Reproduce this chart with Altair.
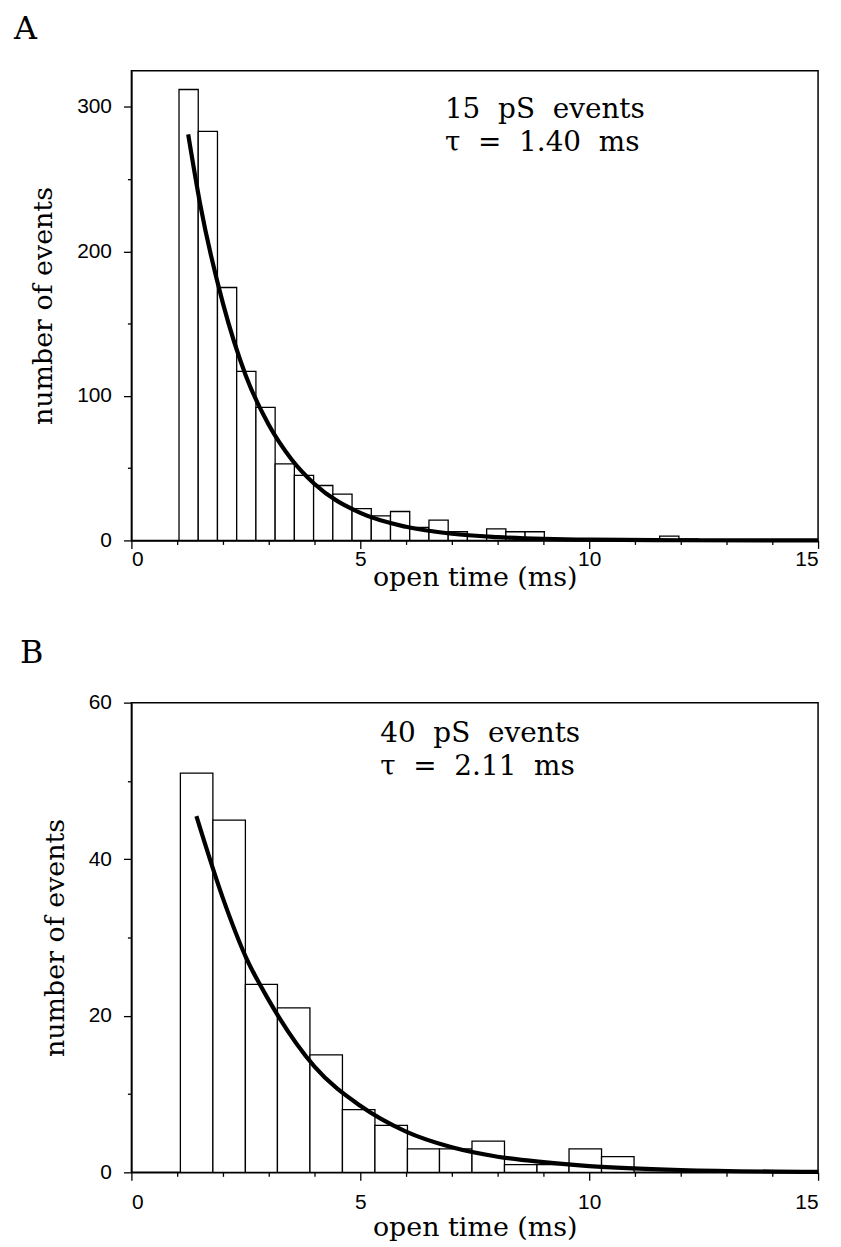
import altair as alt
import pandas as pd

# ---------------- Panel A: 15 pS events ----------------
a_bin_start = [1.04, 1.46, 1.88, 2.30, 2.72, 3.14, 3.56, 3.98, 4.40, 4.82, 5.24, 5.66, 6.08, 6.50,
               6.92, 7.34, 7.76, 8.18, 8.60, 9.02, 9.44, 9.86, 10.28, 10.70, 11.12, 11.54, 11.96]
a_bin_end = [1.46, 1.88, 2.30, 2.72, 3.14, 3.56, 3.98, 4.40, 4.82, 5.24, 5.66, 6.08, 6.50, 6.92,
             7.34, 7.76, 8.18, 8.60, 9.02, 9.44, 9.86, 10.28, 10.70, 11.12, 11.54, 11.96, 12.38]
a_counts = [312, 283, 175, 117, 92, 53, 45, 38, 32, 22, 17, 20, 9, 14,
            6, 3, 8, 6, 6, 1, 0, 0, 0, 0, 0, 3, 1]
a_fit_t = [1.24, 1.5, 2.0, 2.5, 3.0, 3.5, 4.0, 5.0, 6.0, 7.0, 8.0, 10.0, 12.0, 15.0]
a_fit_n = [281, 233, 164, 114, 80, 56, 39, 19, 9.4, 4.6, 2.3, 0.5, 0.1, 0.0]
a_text = ["15\u00a0\u00a0pS\u00a0\u00a0events", "\u03c4\u00a0\u00a0=\u00a0\u00a01.40\u00a0\u00a0ms"]

# ---------------- Panel B: 40 pS events ----------------
b_bin_start = [1.07, 1.78, 2.49, 3.19, 3.90, 4.61, 5.32, 6.03, 6.73, 7.44, 8.15, 8.86, 9.56, 10.27]
b_bin_end = [1.78, 2.49, 3.19, 3.90, 4.61, 5.32, 6.03, 6.73, 7.44, 8.15, 8.86, 9.56, 10.27, 10.98]
b_counts = [51, 45, 24, 21, 15, 8, 6, 3, 3, 4, 1, 1, 3, 2]
b_fit_t = [1.42, 2.0, 2.5, 3.0, 4.0, 5.0, 6.0, 7.0, 8.0, 9.0, 10.0, 12.0, 15.0]
b_fit_n = [45.5, 35, 27.5, 22, 13.5, 8.5, 5.2, 3.2, 2.0, 1.3, 0.8, 0.3, 0.05]
b_text = ["40\u00a0\u00a0pS\u00a0\u00a0events", "\u03c4\u00a0\u00a0=\u00a0\u00a02.11\u00a0\u00a0ms"]

x_ticks = list(range(0, 16))

SERIF = "DejaVu Serif"
SANS = "Liberation Sans"
W, H = 690, 472


def panel(starts, ends, counts, fit_t, fit_n, ymax, yticks, ymajor_step, letter, lines,
          text_x, text_y, letter_x, letter_y, xlabel_pad, xtitle_pad):
    bars_df = pd.DataFrame({"start": starts, "end": ends, "count": counts})
    fit_df = pd.DataFrame({"t": fit_t, "n": fit_n})

    xscale = alt.Scale(domain=[0, 15], nice=False, zero=False)
    yscale = alt.Scale(domain=[0, ymax], nice=False)

    xaxis = alt.Axis(
        values=x_ticks,
        labelExpr="datum.value % 5 === 0 ? datum.label : ''",
        tickSize={"condition": {"test": "datum.value % 5 === 0", "value": 8}, "value": 4},
        title="open time (ms)",
        labelPadding=xlabel_pad,
        titlePadding=xtitle_pad,
        grid=False,
    )
    yaxis = alt.Axis(
        values=yticks,
        labelExpr=f"datum.value % {ymajor_step} === 0 ? datum.label : ''",
        tickSize={"condition": {"test": f"datum.value % {ymajor_step} === 0", "value": 8},
                  "value": 4},
        title="number of events",
        labelPadding=12,
        titlePadding=19,
        grid=False,
    )

    bars = alt.Chart(bars_df).mark_rect(
        fill="white", stroke="black", strokeWidth=1.3
    ).encode(
        x=alt.X("start:Q", scale=xscale, axis=xaxis),
        x2="end:Q",
        y=alt.Y("count:Q", scale=yscale, axis=yaxis),
        y2=alt.datum(0),
    )

    fit = alt.Chart(fit_df).mark_line(
        color="black", strokeWidth=4.2, interpolate="monotone"
    ).encode(
        x=alt.X("t:Q", scale=xscale),
        y=alt.Y("n:Q", scale=yscale),
    )

    one = pd.DataFrame({"k": [0]})
    note = alt.Chart(one).mark_text(
        text=lines, font=SERIF, fontSize=28, align="left", baseline="alphabetic",
        lineHeight=33, color="black"
    ).encode(x=alt.value(text_x), y=alt.value(text_y))

    lab = alt.Chart(one).mark_text(
        text=letter, font=SERIF, fontSize=32, align="left", baseline="alphabetic",
        color="black"
    ).encode(x=alt.value(letter_x), y=alt.value(letter_y))

    return alt.layer(bars, fit, note, lab).properties(width=W, height=H)


pa = panel(a_bin_start, a_bin_end, a_counts, a_fit_t, a_fit_n, 325,
           [0, 50, 100, 150, 200, 250, 300], 100, "A", a_text, 315, 48, -118, -32, 0, -5)
pb = panel(b_bin_start, b_bin_end, b_counts, b_fit_t, b_fit_n, 60,
           [0, 10, 20, 30, 40, 50, 60], 20, "B", b_text, 250, 40, -112, -40, 11, 2)

chart = alt.vconcat(
    pa, pb, spacing=45, background="white",
    padding={"left": 5, "top": 1, "right": 5, "bottom": 2},
).configure_view(
    stroke="black", strokeWidth=1.5
).configure_axis(
    grid=False,
    domainColor="black", domainWidth=1.5,
    tickColor="black", tickWidth=1.3,
    labelColor="black", labelFont=SANS, labelFontSize=21,
    titleColor="black", titleFont=SERIF, titleFontSize=27, titleFontWeight="normal",
)

chart.save("out.html", embed_options={"renderer": "svg", "actions": False})
